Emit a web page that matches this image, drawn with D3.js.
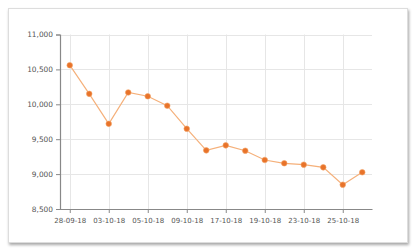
<!DOCTYPE html>
<html><head><meta charset="utf-8">
<script src="https://cdn.jsdelivr.net/npm/d3@7/dist/d3.min.js"></script>
<style>
body{margin:0;background:#fff;}
svg text{font-family:"DejaVu Sans",Verdana,sans-serif;fill:#555;}
</style></head>
<body><svg id="c" width="418" height="250"></svg>
<script>
const categories = ["28-09-18","01-10-18","03-10-18","04-10-18","05-10-18","08-10-18","09-10-18","16-10-18","17-10-18","18-10-18","19-10-18","22-10-18","23-10-18","24-10-18","25-10-18","26-10-18"];
const values = [10560,10150,9720,10170,10115,9980,9650,9340,9412,9335,9202,9155,9135,9097,8848,9026];
const yTicks = [8500,9000,9500,10000,10500,11000];
const labeledCategories = ["28-09-18","03-10-18","05-10-18","09-10-18","17-10-18","19-10-18","23-10-18","25-10-18"];

const svg = d3.select("#c");
const defs = svg.append("defs");
const f = defs.append("filter").attr("id","sh").attr("x","-5%").attr("y","-5%").attr("width","110%").attr("height","115%");
f.append("feDropShadow").attr("dx",1).attr("dy",2).attr("stdDeviation",1.8).attr("flood-color","#000").attr("flood-opacity",0.35);
svg.append("rect").attr("x",8.5).attr("y",8.5).attr("width",399).attr("height",234)
  .attr("fill","#fff").attr("stroke","#ddd").attr("filter","url(#sh)");

const L=60, R=372, T=34.5, B=209;
const x = d3.scalePoint().domain(categories).range([L,R]).padding(0.5);
const y = d3.scaleLinear().domain([8500,11000]).range([B,T]);

// grid
svg.append("g").selectAll("line").data(yTicks.slice(1)).join("line")
  .attr("x1",L).attr("x2",R).attr("y1",d=>Math.round(y(d))+0.5).attr("y2",d=>Math.round(y(d))+0.5)
  .attr("stroke","#e6e6e6");
svg.append("g").selectAll("line").data(labeledCategories).join("line")
  .attr("x1",d=>Math.round(x(d))+0.5).attr("x2",d=>Math.round(x(d))+0.5).attr("y1",T).attr("y2",B)
  .attr("stroke","#e6e6e6");

// axes
const ya = svg.append("g").attr("transform",`translate(${L},0)`)
  .call(d3.axisLeft(y).tickValues(yTicks).tickFormat(d3.format(",")).tickSize(4).tickPadding(3));
ya.select(".domain").attr("stroke","#888").attr("stroke-width",1.2);
ya.selectAll(".tick line").attr("stroke","#888");
ya.selectAll("text").style("font-size","7.4px").attr("fill","#555");

const xa = svg.append("g").attr("transform",`translate(0,${B})`)
  .call(d3.axisBottom(x).tickValues(labeledCategories).tickSize(4).tickPadding(5).tickSizeOuter(0));
xa.select(".domain").attr("stroke","#888").attr("stroke-width",1.2);
xa.selectAll(".tick line").attr("stroke","#888");
xa.selectAll("text").style("font-size","7px").attr("fill","#555");

// line
svg.append("path").datum(values)
  .attr("d",d3.line().x((d,i)=>x(categories[i])).y(d=>y(d)))
  .attr("fill","none").attr("stroke","#f5b07a").attr("stroke-width",1.2);
svg.append("g").selectAll("circle").data(values).join("circle")
  .attr("cx",(d,i)=>x(categories[i])).attr("cy",d=>y(d)).attr("r",2.8)
  .attr("fill","#e8732a").attr("stroke","#f3a468").attr("stroke-width",0.6);
</script></body></html>
